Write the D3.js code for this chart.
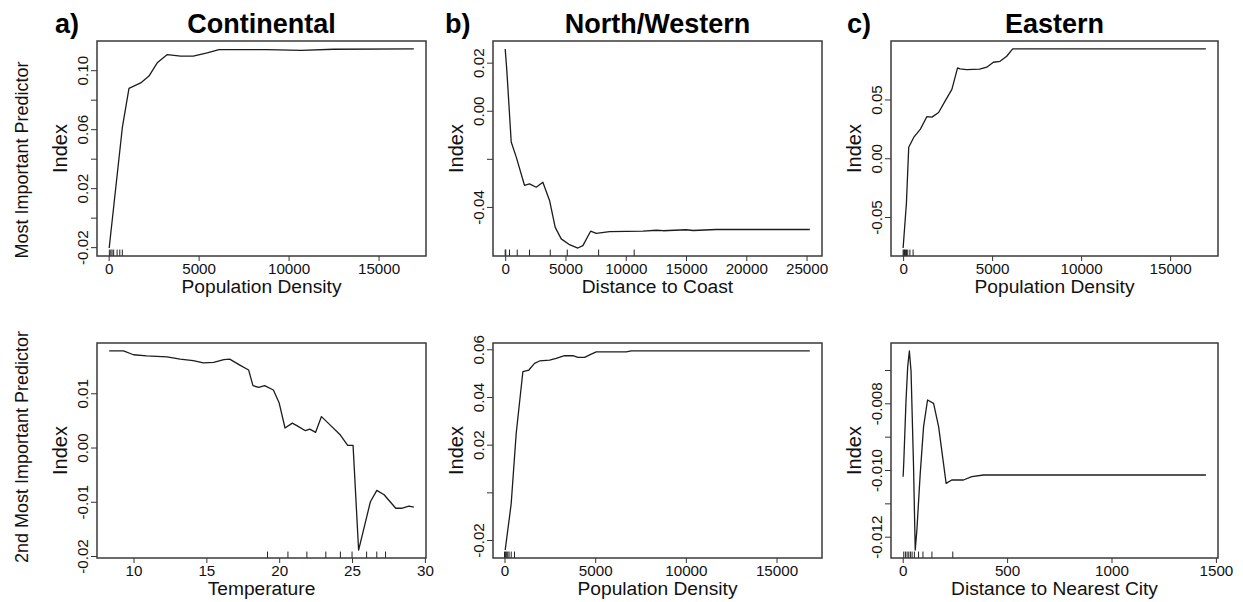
<!DOCTYPE html>
<html lang="en">
<head>
<meta charset="UTF-8" />
<title>Partial dependence by region</title>
<script src="https://cdn.jsdelivr.net/npm/d3@7"></script>
<style>
  body { margin: 0; background: #fff; }
  svg { display: block; font-family: 'Liberation Sans', Arial, sans-serif; }
</style>
</head>
<body>
<div id="chart"></div>
<script>
// a) Continental
const contPopX = [30, 760, 1130, 1780, 2240, 2700, 3260, 4000, 4700, 5480, 6130, 8800, 10700, 12500, 16960]
const contPopY = [-0.0206, 0.061, 0.0877, 0.0914, 0.096, 0.105, 0.1106, 0.1095, 0.1095, 0.1117, 0.114, 0.114, 0.1135, 0.1142, 0.1144]
const contPopRug = [40, 120, 190, 280, 470, 620, 760]

const contTempX = [8.33, 9.31, 10, 10.9, 12.3, 13.2, 14.1, 14.8, 15.5, 16.2, 16.6, 17.3, 17.9, 18.2, 18.6, 19.0, 19.6, 20.0, 20.4, 20.9, 21.3, 21.8, 22.1, 22.5, 22.9, 23.4, 24.2, 24.7, 25.07, 25.45, 26.26, 26.7, 27.2, 28.0, 28.4, 28.9, 29.24]
const contTempY = [0.0178, 0.0178, 0.0171, 0.0169, 0.0167, 0.0163, 0.016, 0.0156, 0.0157, 0.0162, 0.0163, 0.0152, 0.0143, 0.0114, 0.0111, 0.0114, 0.0106, 0.0082, 0.0036, 0.0045, 0.0039, 0.0031, 0.0034, 0.0028, 0.0057, 0.0044, 0.0023, 0.0004, 0.0004, -0.0189, -0.01, -0.0079, -0.0087, -0.0112, -0.0112, -0.0108, -0.011]
const contTempRug = [19.2, 20.6, 21.9, 23.2, 24.2, 25.0, 26.0, 26.7, 27.3]

// b) North/Western
const nwCoastX = [0, 133, 500, 913, 1600, 2020, 2575, 3125, 3680, 4150, 4650, 5340, 6030, 6445, 7085, 7555, 8660, 11430, 12540, 13100, 15000, 15600, 17500, 25270]
const nwCoastY = [0.0257, 0.017, -0.013, -0.0192, -0.031, -0.0304, -0.0318, -0.0297, -0.0373, -0.0485, -0.0533, -0.0557, -0.0571, -0.0561, -0.0501, -0.051, -0.0503, -0.0501, -0.0497, -0.0499, -0.0495, -0.0498, -0.0494, -0.0494]
const nwCoastRug = [0, 50, 360, 1000, 2020, 3740, 5150, 7750, 10700]

const nwPopX = [37, 368, 644, 1012, 1343, 1656, 1932, 2484, 2852, 3312, 3772, 4048, 4416, 4784, 5060, 6716, 6992, 16836]
const nwPopY = [-0.0242, -0.0048, 0.0247, 0.0506, 0.0513, 0.0541, 0.0551, 0.0555, 0.0562, 0.0573, 0.0573, 0.0566, 0.0566, 0.058, 0.0589, 0.0589, 0.0593, 0.0593]
const nwPopRug = [0, 60, 120, 180, 250, 370, 550]

// c) Eastern
const eastPopX = [0, 185, 315, 595, 970, 1340, 1620, 1995, 2365, 2740, 3060, 3200, 3570, 4300, 4700, 5070, 5445, 5820, 6155, 17010]
const eastPopY = [-0.0764, -0.0385, 0.0093, 0.0177, 0.0248, 0.0355, 0.035, 0.0389, 0.0488, 0.0586, 0.0769, 0.0761, 0.0755, 0.0758, 0.0775, 0.0817, 0.0825, 0.0868, 0.093, 0.093]
const eastPopRug = [0, 40, 80, 130, 190, 260, 380, 560]

const eastCityX = [2, 5, 16, 24, 32, 40, 52, 60, 68, 84, 100, 119, 148, 172, 208, 235, 291, 331, 387, 1452]
const eastCityY = [-0.0102, -0.0098, -0.0079, -0.0069, -0.00643, -0.00704, -0.0099, -0.0124, -0.0118, -0.0101, -0.0087, -0.0079, -0.008, -0.0087, -0.0104, -0.0103, -0.0103, -0.0102, -0.01015, -0.01015]
const eastCityRug = [5, 13, 21, 29, 37, 45, 56, 76, 97, 140, 240]

// axis ticks and which ones carry a label
const popTicks = [0, 5000, 10000, 15000]
const coastTicks = [0, 5000, 10000, 15000, 20000, 25000]
const tempTicks = [10, 15, 20, 25, 30]
const cityTicks = [0, 500, 1000, 1500]

const contPopYTicks = [-0.02, 0, 0.02, 0.04, 0.06, 0.08, 0.10]
const contPopYLabels = [-0.02, 0.02, 0.06, 0.10]
const contTempYTicks = [-0.02, -0.01, 0, 0.01]
const nwCoastYTicks = [-0.04, -0.02, 0, 0.02]
const nwCoastYLabels = [-0.04, 0, 0.02]
const nwPopYTicks = [-0.02, 0, 0.02, 0.04, 0.06]
const nwPopYLabels = [-0.02, 0.02, 0.04, 0.06]
const eastPopYTicks = [-0.05, 0, 0.05]
const eastCityYTicks = [-0.012, -0.011, -0.01, -0.009, -0.008, -0.007]
const eastCityYLabels = [-0.012, -0.01, -0.008]

const columnTitles = ['Continental', 'North/Western', 'Eastern']
const columnLetters = ['a)', 'b)', 'c)']
const rowTitles = ['Most Important Predictor', '2nd Most Important Predictor']

// layout
const colLeft = [97, 493, 891]
const colWidth = [329, 329, 327]
const rowTop = [41, 343]
const boxH = 215

const svg = d3.select('#chart').append('svg')
  .attr('width', 1243).attr('height', 602)

// R style: 4% padding around the data range
function padded(vals) {
  const [a, b] = d3.extent(vals)
  const r = b - a
  return [a - 0.04 * r, b + 0.04 * r]
}

function panel(p) {
  const x = d3.scaleLinear().domain(padded(p.xs)).range([p.left, p.left + p.w])
  const y = d3.scaleLinear().domain(padded(p.ys)).range([p.top + p.h, p.top])
  const g = svg.append('g')
  const bottom = p.top + p.h

  g.append('path')
    .datum(d3.zip(p.xs, p.ys))
    .attr('fill', 'none')
    .attr('stroke', '#1c1c1c')
    .attr('stroke-width', 1.3)
    .attr('stroke-linejoin', 'round')
    .attr('d', d3.line().x(d => x(d[0])).y(d => y(d[1])))

  // rug
  g.selectAll('.rug').data(p.rug).join('line')
    .attr('x1', d => x(d)).attr('x2', d => x(d))
    .attr('y1', bottom).attr('y2', bottom - 0.03 * p.h)
    .attr('stroke', '#222').attr('stroke-width', 1)

  // x axis
  const xa = g.append('g').attr('transform', `translate(0,${bottom})`)
    .call(d3.axisBottom(x).tickValues(p.xTicks).tickSize(5).tickPadding(2).tickFormat(d => String(d)))
  xa.select('.domain').remove()
  xa.selectAll('line').attr('stroke', '#333')
  xa.selectAll('text').attr('font-size', '15.2px').attr('fill', '#111')
    .attr('font-family', "'Liberation Sans', Arial, sans-serif")

  // y axis, labels parallel to the axis
  const ya = g.append('g').attr('transform', `translate(${p.left},0)`)
    .call(d3.axisLeft(y).tickValues(p.yTicks).tickSize(6)
      .tickFormat(d => p.yLabels.some(l => Math.abs(l - d) < 1e-9) ? d.toFixed(p.dec) : ''))
  ya.select('.domain').remove()
  ya.selectAll('line').attr('stroke', '#333')
  ya.selectAll('text')
    .attr('font-size', '15.2px').attr('fill', '#111')
    .attr('font-family', "'Liberation Sans', Arial, sans-serif")
    .attr('transform', 'rotate(-90)')
    .attr('x', 0).attr('y', -9.5).attr('dy', null)
    .attr('text-anchor', 'middle')

  g.append('rect')
    .attr('x', p.left).attr('y', p.top).attr('width', p.w).attr('height', p.h)
    .attr('fill', 'none').attr('stroke', '#3a3a3a').attr('stroke-width', 1.5)

  g.append('text')
    .attr('x', p.left + p.w / 2).attr('y', bottom + 37)
    .attr('text-anchor', 'middle').attr('font-size', '19.2px').attr('fill', '#111')
    .text(p.xlab)

  g.append('text')
    .attr('transform', `translate(${p.left - 30},${p.top + p.h / 2}) rotate(-90)`)
    .attr('text-anchor', 'middle').attr('font-size', '20px').attr('fill', '#111')
    .text('Index')
}

const panels = [
  { col: 0, row: 0, xs: contPopX, ys: contPopY, rug: contPopRug, xTicks: popTicks, yTicks: contPopYTicks, yLabels: contPopYLabels, dec: 2, xlab: 'Population Density' },
  { col: 0, row: 1, xs: contTempX, ys: contTempY, rug: contTempRug, xTicks: tempTicks, yTicks: contTempYTicks, yLabels: contTempYTicks, dec: 2, xlab: 'Temperature' },
  { col: 1, row: 0, xs: nwCoastX, ys: nwCoastY, rug: nwCoastRug, xTicks: coastTicks, yTicks: nwCoastYTicks, yLabels: nwCoastYLabels, dec: 2, xlab: 'Distance to Coast' },
  { col: 1, row: 1, xs: nwPopX, ys: nwPopY, rug: nwPopRug, xTicks: popTicks, yTicks: nwPopYTicks, yLabels: nwPopYLabels, dec: 2, xlab: 'Population Density' },
  { col: 2, row: 0, xs: eastPopX, ys: eastPopY, rug: eastPopRug, xTicks: popTicks, yTicks: eastPopYTicks, yLabels: eastPopYTicks, dec: 2, xlab: 'Population Density' },
  { col: 2, row: 1, xs: eastCityX, ys: eastCityY, rug: eastCityRug, xTicks: cityTicks, yTicks: eastCityYTicks, yLabels: eastCityYLabels, dec: 3, xlab: 'Distance to Nearest City' }
]

panels.forEach(p => panel(Object.assign({
  left: colLeft[p.col], w: colWidth[p.col], top: rowTop[p.row], h: boxH
}, p)))

// column titles
const letterX = [55, 445, 847]
columnTitles.forEach((t, i) => {
  svg.append('text')
    .attr('x', colLeft[i] + colWidth[i] / 2).attr('y', 32.5)
    .attr('text-anchor', 'middle').attr('font-size', '27px').attr('font-weight', 'bold')
    .attr('fill', '#000').text(t)
  svg.append('text')
    .attr('x', letterX[i]).attr('y', 32.5)
    .attr('font-size', '27px').attr('font-weight', 'bold')
    .attr('fill', '#000').text(columnLetters[i])
})

// row titles
const rowMid = [160, 447]
rowTitles.forEach((t, i) => {
  svg.append('text')
    .attr('transform', `translate(28,${rowMid[i]}) rotate(-90)`)
    .attr('text-anchor', 'middle').attr('font-size', '18px').attr('fill', '#111')
    .text(t)
})
</script>
</body>
</html>
